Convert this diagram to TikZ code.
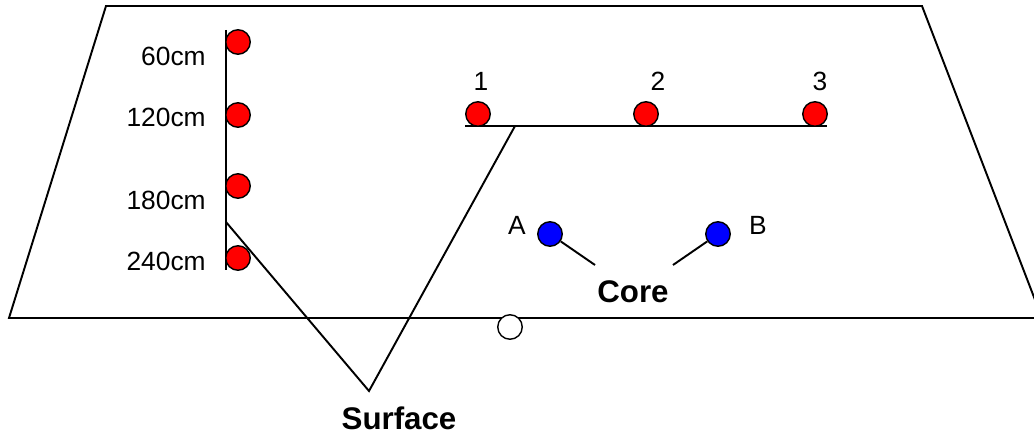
\documentclass[tikz,border=0pt]{standalone}
\usepackage{fontspec}
\setmainfont{Liberation Sans}
\usepackage{tikz}
\usetikzlibrary{positioning}
\definecolor{vermelho}{RGB}{255,0,0}
\definecolor{azul}{RGB}{0,0,255}
\tikzset{
  sensor/.style={circle,draw=black,fill=vermelho,minimum size=4.9mm,
    inner sep=0pt,line width=0.8pt},
  sensorazul/.style={sensor,fill=azul},
  sensorbranco/.style={sensor,fill=white},
  rotulo/.style={font=\fontsize{15}{18}\selectfont,inner sep=0pt},
  titulo/.style={font=\fontsize{17.8}{20}\selectfont\bfseries,inner sep=0pt},
  linha/.style={line width=1.1pt,black}
}
\begin{document}
\begin{tikzpicture}[x=0.02cm,y=-0.02cm]
\clip (0,0) rectangle (1034,439);
% plano do solo
\draw[linha] (106,6) -- (922,6) -- (1042,318) -- (9,318) -- cycle;
% perfil vertical
\coordinate (vtopo) at (226,30);
\coordinate (vbase) at (226,270);
\coordinate (vsaida) at (226,222);
\draw[linha] (vtopo) -- (vbase);
\node[sensor] (p60) at (238,42) {};
\node[sensor] (p120) at (238,115) {};
\node[sensor] (p180) at (238,186) {};
\node[sensor] (p240) at (238,258) {};
\node[rotulo,anchor=east] (r60) at (206,56.5) {60cm};
\node[rotulo,anchor=east] (r120) at (206,117) {120cm};
\node[rotulo,anchor=east] (r180) at (206,200) {180cm};
\node[rotulo,anchor=east] (r240) at (206,261) {240cm};
% linha horizontal
\coordinate (hesq) at (465,126);
\coordinate (hdir) at (827,126);
\coordinate (hsaida) at (515,126);
\draw[linha] (hesq) -- (hdir);
\node[sensor] (s1) at (478,114) {};
\node[sensor] (s2) at (646,114) {};
\node[sensor] (s3) at (815,114) {};
\node[rotulo] (r1) at (481,81) {1};
\node[rotulo] (r2) at (658,81) {2};
\node[rotulo] (r3) at (820,81) {3};
% superficie
\coordinate (vponta) at (369,391);
\draw[linha] (vsaida) -- (vponta) -- (hsaida);
\node[titulo] (sup) at (399,418) {Surface};
% nucleo
\node[sensorazul] (ca) at (550,234) {};
\node[sensorazul] (cb) at (718,234) {};
\node[rotulo] (ra) at (517,225) {A};
\node[rotulo] (rb) at (758,225) {B};
\node[titulo] (nucleo) at (633,292) {Core};
\coordinate (na) at (595,265);
\coordinate (nb) at (673,265);
\draw[linha] (ca) -- (na);
\draw[linha] (cb) -- (nb);
% ponto de referencia
\node[sensorbranco] (ref) at (510,327) {};
\end{tikzpicture}
\end{document}
